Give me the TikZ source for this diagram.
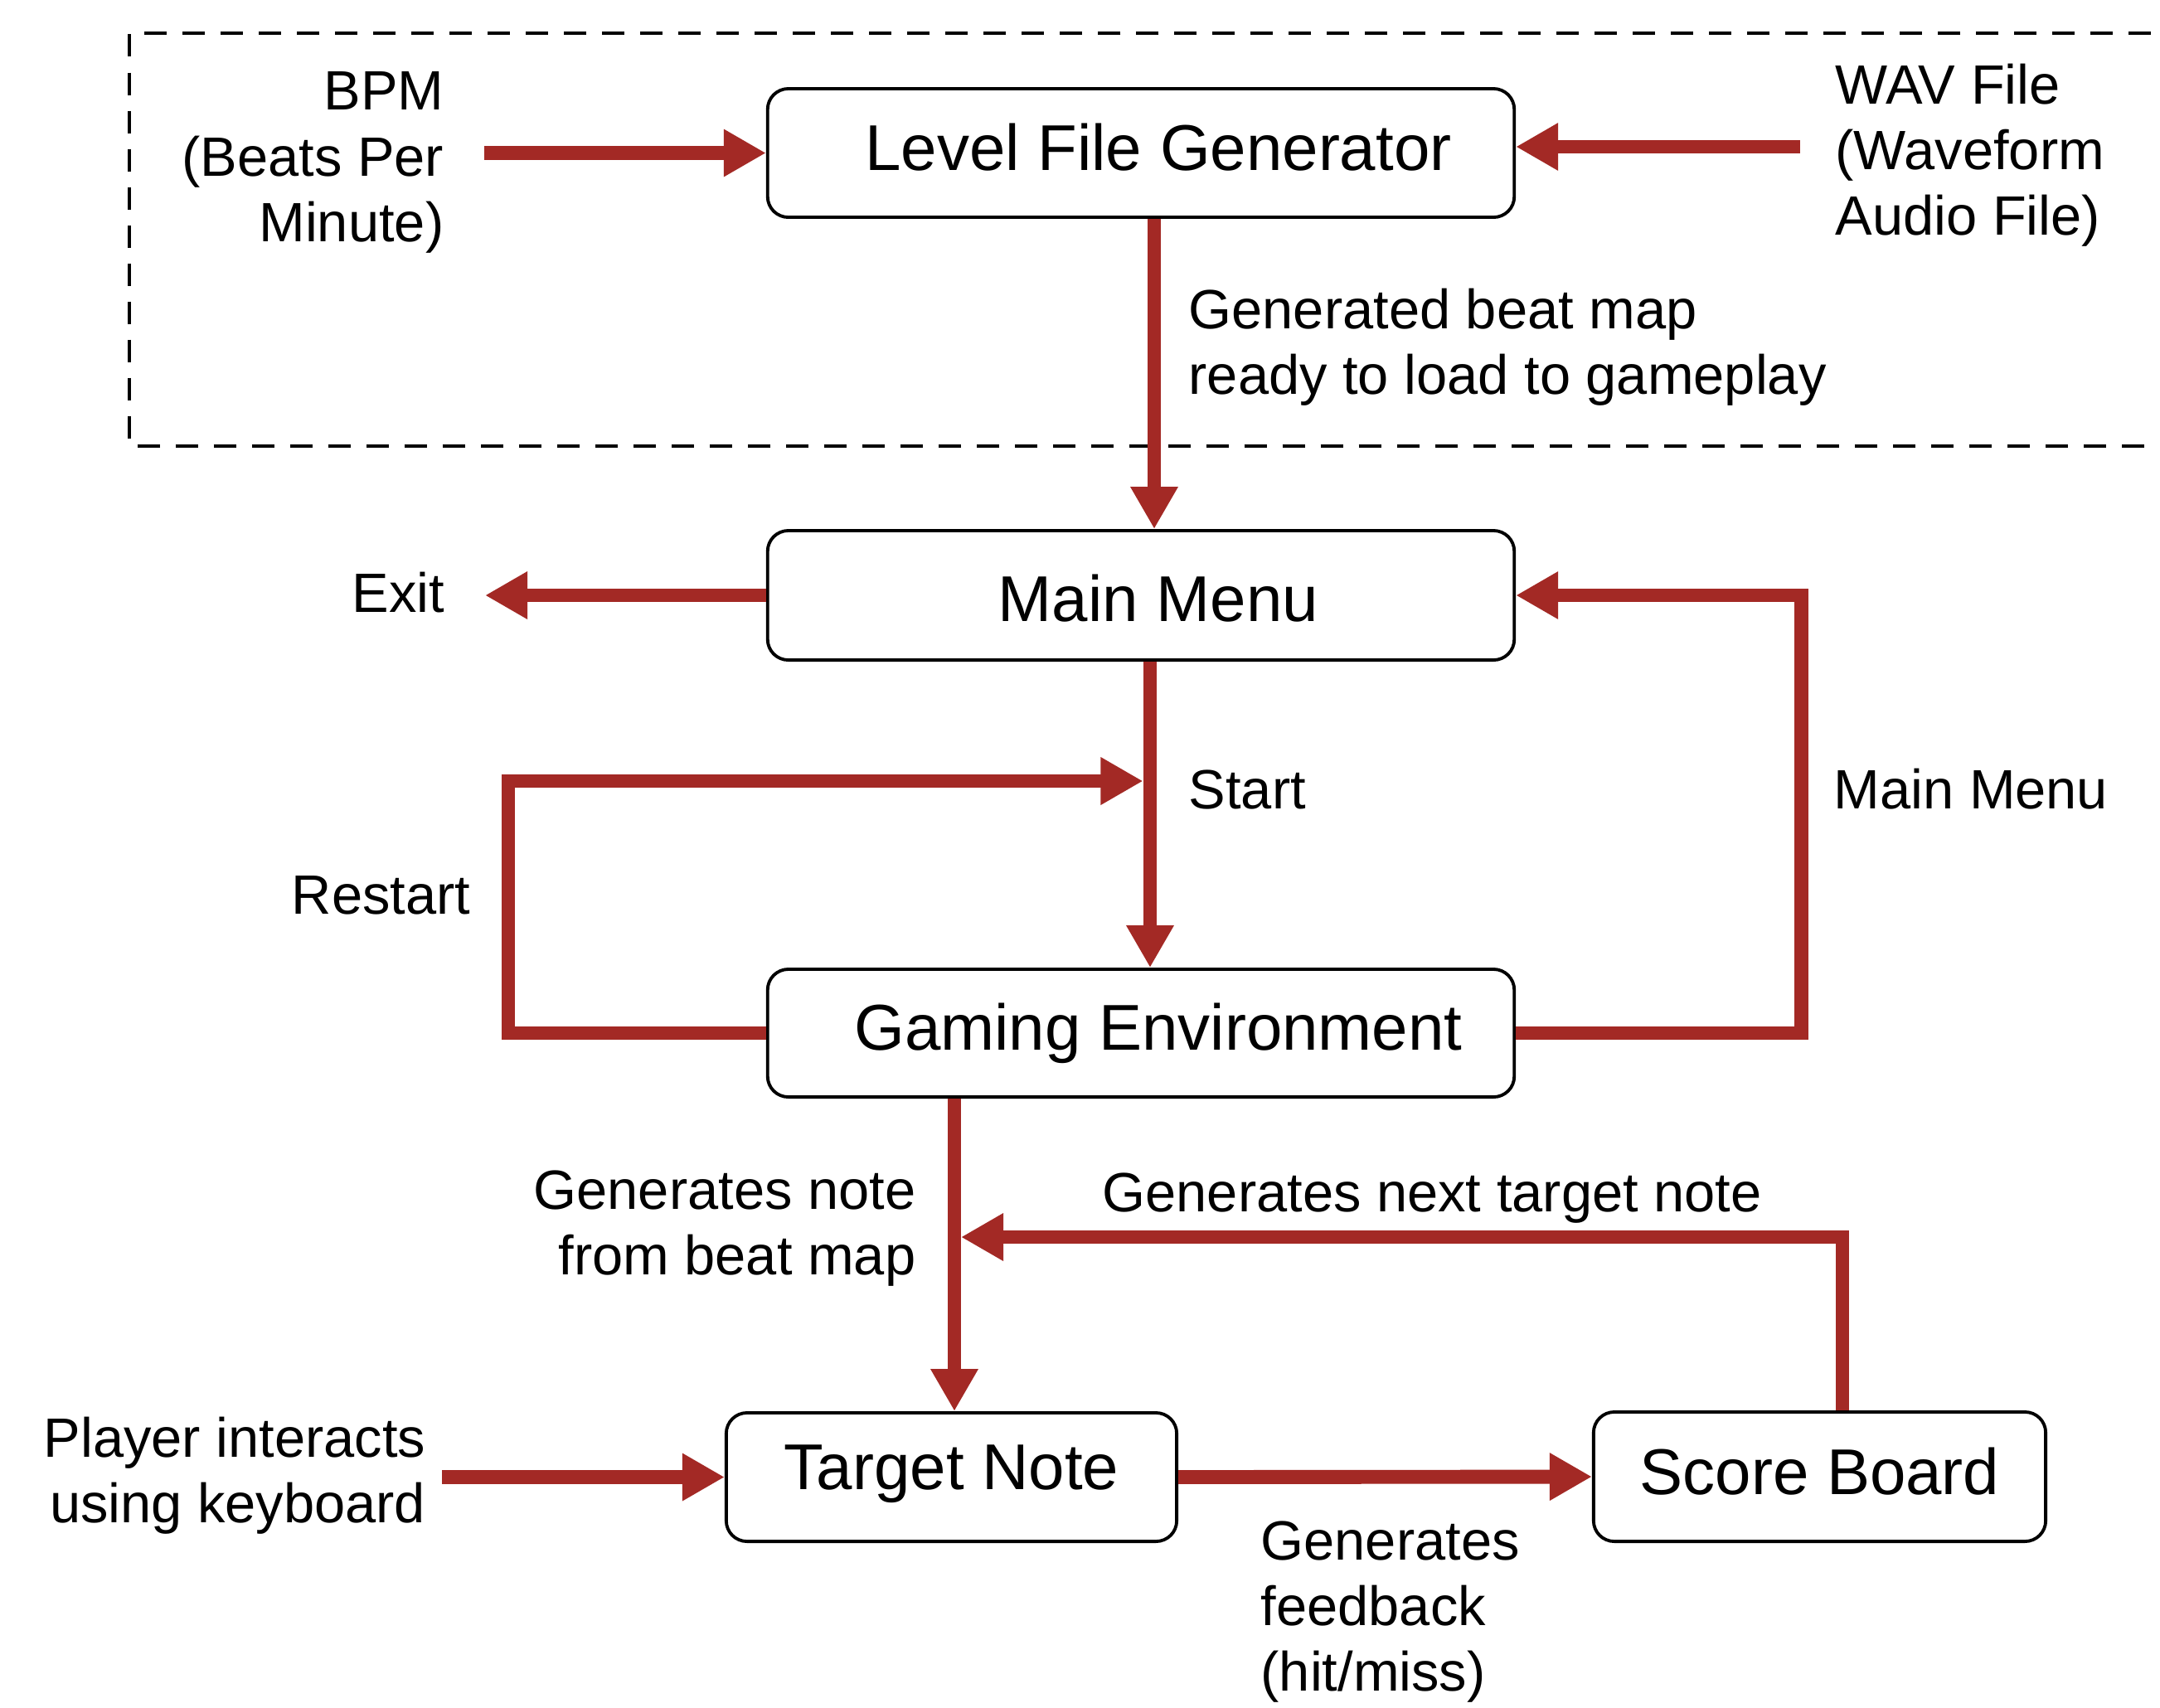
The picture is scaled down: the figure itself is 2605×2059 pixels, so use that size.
\documentclass[tikz,border=0pt]{standalone}
\usepackage{fontspec}
\setmainfont{Liberation Sans}
\usetikzlibrary{arrows.meta,calc}
\definecolor{arrowred}{RGB}{163,41,37}
\begin{document}
\begin{tikzpicture}[x=0.01cm,y=-0.01cm,
  box/.style={draw=black, line width=1.1pt, rounded corners=0.25cm, fill=white,
    font=\fontsize{22.2}{26}\selectfont, text height=15.9pt, text depth=4pt},
  lbl/.style={font=\fontsize{19}{22.5}\selectfont, inner sep=0pt},
  arr/.style={draw=arrowred, line width=4.8pt, line join=miter,
    -{Triangle[length=0.51cm,width=0.54cm]}},
  frame/.style={draw=black, line width=1.2pt, dash pattern=on 0.27cm off 0.19cm}]
\clip (0,0) rectangle (2605,2059);
% dashed frame (open to the right, beyond the picture edge)
\draw[frame] (2640,40) -- (156,40) -- (156,538) -- (2640,538);

% boxes
\node[box, minimum width=9cm, minimum height=1.55cm, text depth=3.7pt] (lfg) at (1376,184.5) {\hspace*{0.42cm}Level File Generator};
\node[box, minimum width=9cm, minimum height=1.56cm, text height=17.9pt, text depth=0pt] (mm) at (1376,718) {\hspace*{0.42cm}Main Menu};
\node[box, minimum width=9cm, minimum height=1.54cm] (ge) at (1376,1246) {\hspace*{0.42cm}Gaming Environment};
\node[box, minimum width=5.43cm, minimum height=1.55cm, text depth=7.6pt] (tn) at (1147.5,1781.5) {Target Note};
\node[box, minimum width=5.45cm, minimum height=1.56cm, text depth=3.7pt] (sb) at (2194.5,1781) {Score Board};

% labels
\node[lbl, anchor=east, align=right] (bpm) at (536,196) {BPM\\(Beats Per\\Minute)};
\node[lbl, anchor=west, align=left] (wav) at (2213,187) {WAV File\\(Waveform\\Audio File)};
\node[lbl, anchor=west, align=left] (gbm) at (1433,419) {Generated beat map\\ready to load to gameplay};
\node[lbl, anchor=east] (exit) at (537,715) {Exit};
\node[lbl, anchor=west] (start) at (1433,952) {Start};
\node[lbl, anchor=east] (restart) at (568,1080) {Restart};
\node[lbl, anchor=west] (mml) at (2211,952) {Main Menu};
\node[lbl, anchor=east, align=right] (gnb) at (1105,1481.5) {Generates note\\from beat map};
\node[lbl, anchor=west] (gnt) at (1329,1445) {Generates next target note};
\node[lbl, anchor=east, align=right] (pik) at (514,1780) {Player interacts\\using keyboard};
\node[lbl, anchor=west, align=left] (gfb) at (1520,1944) {Generates\\feedback\\(hit/miss)};

% helper coordinates
\coordinate (wavin) at ([yshift=0.075cm]lfg.east);
\coordinate (rtop) at (613,942);
\path (rtop -| mm.south) ++(2.5,0) coordinate (starthit);
\coordinate (ntip) at (1159,1492);

% connectors
\draw[arr, shorten <=0.48cm] (bpm.east |- lfg.west) -- (lfg.west);
\draw[arr, shorten <=0.42cm] (wavin -| wav.west) -- (wavin);
\draw[arr] ([xshift=0.16cm]lfg.south) -- ([xshift=0.16cm]mm.north);
\draw[arr, shorten >=0.48cm] (mm.west) -- (mm.west -| exit.east);
\draw[arr] ([xshift=0.11cm]mm.south) -- ([xshift=0.11cm]ge.north);
\draw[arr] (ge.west) -| (rtop) -- (starthit);
\draw[arr] (ge.east) -| ([xshift=3.44cm]mm.east) -- (mm.east);
\draw[arr] ([xshift=0.035cm]ge.south -| tn.north) -- ([xshift=0.035cm]tn.north);
\draw[arr] ([xshift=0.275cm]sb.north) |- (ntip);
\draw[arr, shorten <=0.19cm] (pik.east |- tn.west) -- (tn.west);
\draw[arr] (tn.east) -- (sb.west);
\end{tikzpicture}
\end{document}
